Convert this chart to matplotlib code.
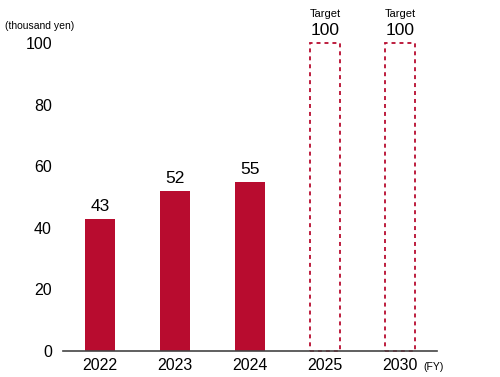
import matplotlib
matplotlib.use("Agg")
import matplotlib.pyplot as plt

plt.rcParams['font.family'] = ['Liberation Sans', 'DejaVu Sans']

years = ['2022', '2023', '2024', '2025', '2030']
actual = [43, 52, 55]
targets = [100, 100]

red = '#b80c2f'

fig = plt.figure(figsize=(5, 3.77), dpi=100)
ax = fig.add_axes([0.126, 0.069, 0.748, 0.817])

xs = list(range(len(years)))
ax.bar(xs[:3], actual, width=0.4, color=red)
dashed = ax.bar(xs[3:], targets, width=0.4, facecolor='none', edgecolor=red,
                linestyle=(0, (2.2, 2.2)), linewidth=1.3)
for b in dashed:
    b.set_clip_on(False)

for x, v in zip(xs[:3], actual):
    ax.text(x, v + 1.5, str(v), ha='center', va='bottom', fontsize=12.5)
for x, v in zip(xs[3:], targets):
    ax.text(x, v + 1.5, str(v), ha='center', va='bottom', fontsize=12.5, clip_on=False)
    ax.text(x, v + 7.8, 'Target', ha='center', va='bottom', fontsize=8, clip_on=False)

ax.set_xlim(-0.493, 4.493)
ax.set_ylim(0, 100)
ax.set_yticks([0, 20, 40, 60, 80, 100])
ax.set_xticks(xs)
ax.set_xticklabels(years)
ax.tick_params(axis='both', length=0, labelsize=11.5)
ax.tick_params(axis='y', pad=8)
ax.tick_params(axis='x', pad=5)

for s in ['top', 'right', 'left']:
    ax.spines[s].set_visible(False)
ax.spines['bottom'].set_color('#444444')
ax.spines['bottom'].set_linewidth(1.2)

fig.text(0.01, 0.932, '(thousand yen)', fontsize=7.5, ha='left', va='center')
fig.text(0.868, 0.027, '(FY)', fontsize=7.5, ha='center', va='center')

fig.savefig('out.png', dpi=100)
